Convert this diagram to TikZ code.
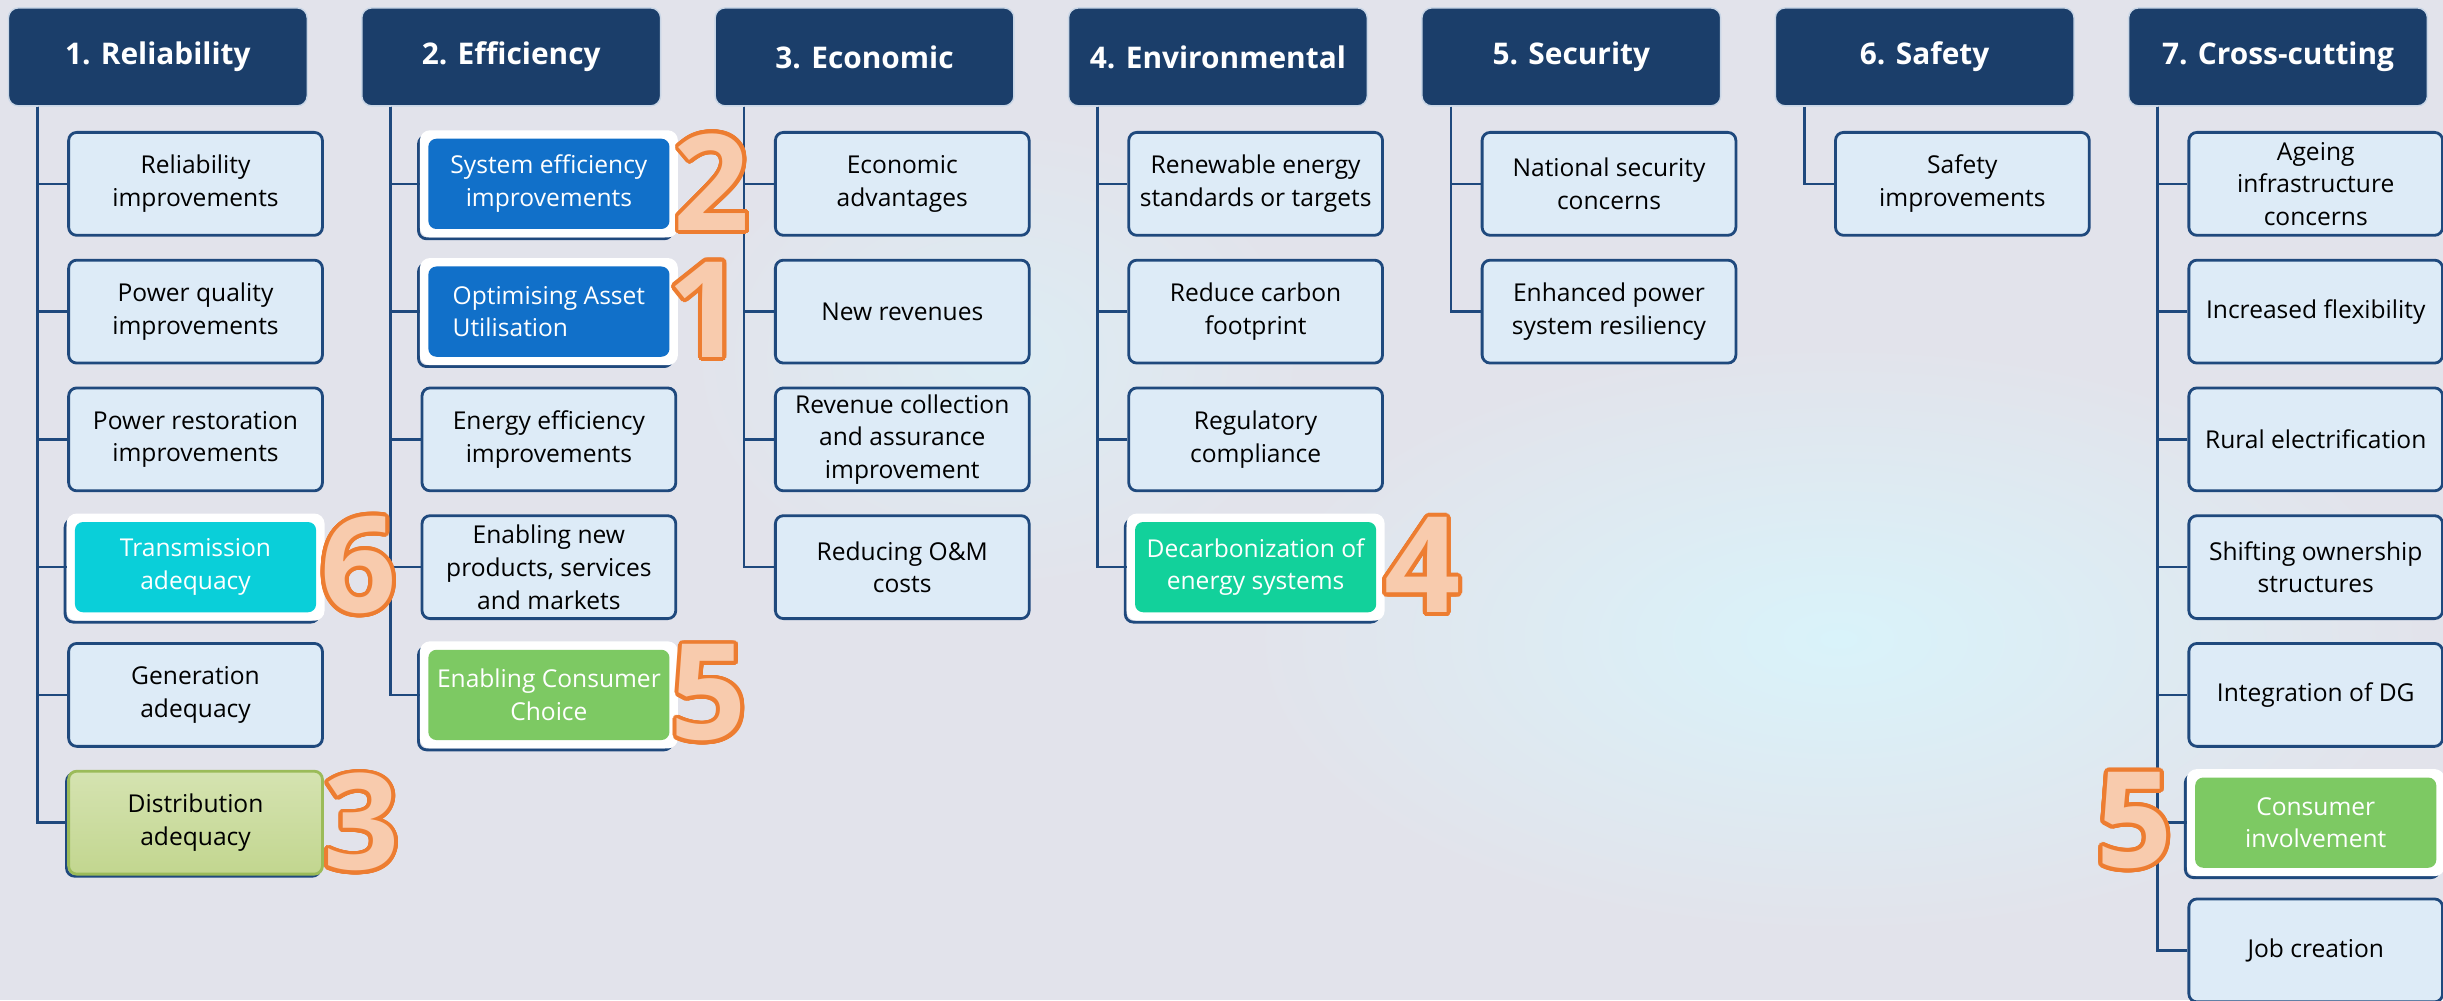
\documentclass[tikz,border=0pt]{standalone}
\usepackage{fontspec}
\setmainfont{Open Sans}
\usepackage[copies]{contour}
\usetikzlibrary{calc}

\definecolor{bg}{HTML}{E2E3EB}
\definecolor{glow}{HTML}{D9F3FA}
\definecolor{headblue}{HTML}{1B3E6A}
\definecolor{headrim}{HTML}{C9D6E6}
\definecolor{itemfill}{HTML}{DDEBF7}
\definecolor{itemline}{HTML}{1F497D}
\definecolor{boxblue}{HTML}{1170C9}
\definecolor{boxcyan}{HTML}{0ACFD9}
\definecolor{boxgreen}{HTML}{7DC963}
\definecolor{boxteal}{HTML}{12D19B}
\definecolor{olivetop}{HTML}{D5E3B1}
\definecolor{olivebot}{HTML}{C2D68F}
\definecolor{oliveline}{HTML}{9BBB59}
\definecolor{numline}{HTML}{ED7D31}
\definecolor{numfill}{HTML}{F8CBAD}

\contourlength{1.1pt}
\contournumber{32}

\begin{document}
\begin{tikzpicture}[x=0.0156cm,y=-0.0156cm
	,head/.style={
		rectangle
		,rounded corners=2.8pt
		,fill=headblue
		,draw=headrim
		,line width=0.4pt
		,text=white
		,font=\fontsize{8.5}{10}\selectfont\bfseries
		,minimum width=2.99cm
		,minimum height=0.98cm
	}
	,item/.style={
		rectangle
		,rounded corners=2.3pt
		,fill=itemfill
		,draw=itemline
		,line width=0.8pt
		,align=center
		,font=\fontsize{7}{9.3}\selectfont
		,minimum width=2.54cm
		,minimum height=1.03cm
		,inner sep=1pt
	}
	,hl/.style={
		item
		,draw=white
		,line width=1.2pt
		,text=white
		,preaction={draw=itemline,line width=0.8pt,transform canvas={xshift=-1pt,yshift=-1pt}}
		,path picture={
			\fill[white] (path picture bounding box.south west) rectangle (path picture bounding box.north east);
			\fill[#1] ([shift={(1.8pt,1.8pt)}]path picture bounding box.south west) rectangle ([shift={(-1.8pt,-1.8pt)}]path picture bounding box.north east);
		}
	}
	,hlblue/.style={hl=boxblue}
	,hlleft/.style={hl=boxblue,align=left}
	,hlcyan/.style={hl=boxcyan}
	,hlgreen/.style={hl=boxgreen}
	,hlteal/.style={hl=boxteal}
	,olive/.style={
		item
		,draw=oliveline
		,top color=olivetop
		,bottom color=olivebot
		,preaction={draw=itemline,line width=0.8pt,transform canvas={xshift=-0.6pt,yshift=-0.6pt}}
	}
	,link/.style={draw=itemline,line width=0.75pt}
	,num/.style={
		inner sep=0
		,text=numfill
		,font=\fontsize{38}{38}\selectfont\bfseries
	}
]

\useasboundingbox (0,0) rectangle (1568,642);
\fill[bg] (0,0) rectangle (1568,642);
\shade[inner color=glow,outer color=bg] (1180,410) ellipse (380 and 190);
\shade[inner color=glow!60!bg,outer color=bg] (640,230) ellipse (200 and 150);

\foreach \i/\t in {1/Reliability,2/Efficiency,3/Economic,4/Environmental,5/Security,6/Safety,7/Cross-cutting}{
	\node[head](h\i) at ({101.3+226.8*(\i-1)},36.5) {\i. \t};
	\coordinate(t\i) at ($(h\i.south west)+(19,0)$);
}

\foreach \c/\j/\s/\t in {
	1/1/item/{Reliability\\improvements}%
	,1/2/item/{Power quality\\improvements}%
	,1/3/item/{Power restoration\\improvements}%
	,1/4/hlcyan/{Transmission\\adequacy}%
	,1/5/item/{Generation\\adequacy}%
	,1/6/olive/{Distribution\\adequacy}%
	,2/1/hlblue/{System efficiency\\improvements}%
	,2/2/hlleft/{Optimising Asset\\Utilisation}%
	,2/3/item/{Energy efficiency\\improvements}%
	,2/4/item/{Enabling new\\products, services\\and markets}%
	,2/5/hlgreen/{Enabling Consumer\\Choice}%
	,3/1/item/{Economic\\advantages}%
	,3/2/item/{New revenues}%
	,3/3/item/{Revenue collection\\and assurance\\improvement}%
	,3/4/item/{Reducing O\&M\\costs}%
	,4/1/item/{Renewable energy\\standards or targets}%
	,4/2/item/{Reduce carbon\\footprint}%
	,4/3/item/{Regulatory\\compliance}%
	,4/4/hlteal/{Decarbonization of\\energy systems}%
	,5/1/item/{National security\\concerns}%
	,5/2/item/{Enhanced power\\system resiliency}%
	,6/1/item/{Safety\\improvements}%
	,7/1/item/{Ageing\\infrastructure\\concerns}%
	,7/2/item/{Increased flexibility}%
	,7/3/item/{Rural electrification}%
	,7/4/item/{Shifting ownership\\structures}%
	,7/5/item/{Integration of DG}%
	,7/6/hlgreen/{Consumer\\involvement}%
	,7/7/item/{Job creation}%
}{
	\node[\s](b\c-\j) at ($(h\c)+(24.2,82*\j-0.5)$) {\t};
	\draw[link] (t\c) |- (b\c-\j.west);
}

\foreach \n/\x/\y in {2/457/118,1/453/200,6/230/364,3/232/529,5/455/446,4/913/364}{
	\node[num](n\n) at (\x,\y) {\contour{numline}{\n}};
}
\node[num](n7) at (1370,528) {\contour{numline}{5}};

\end{tikzpicture}
\end{document}
